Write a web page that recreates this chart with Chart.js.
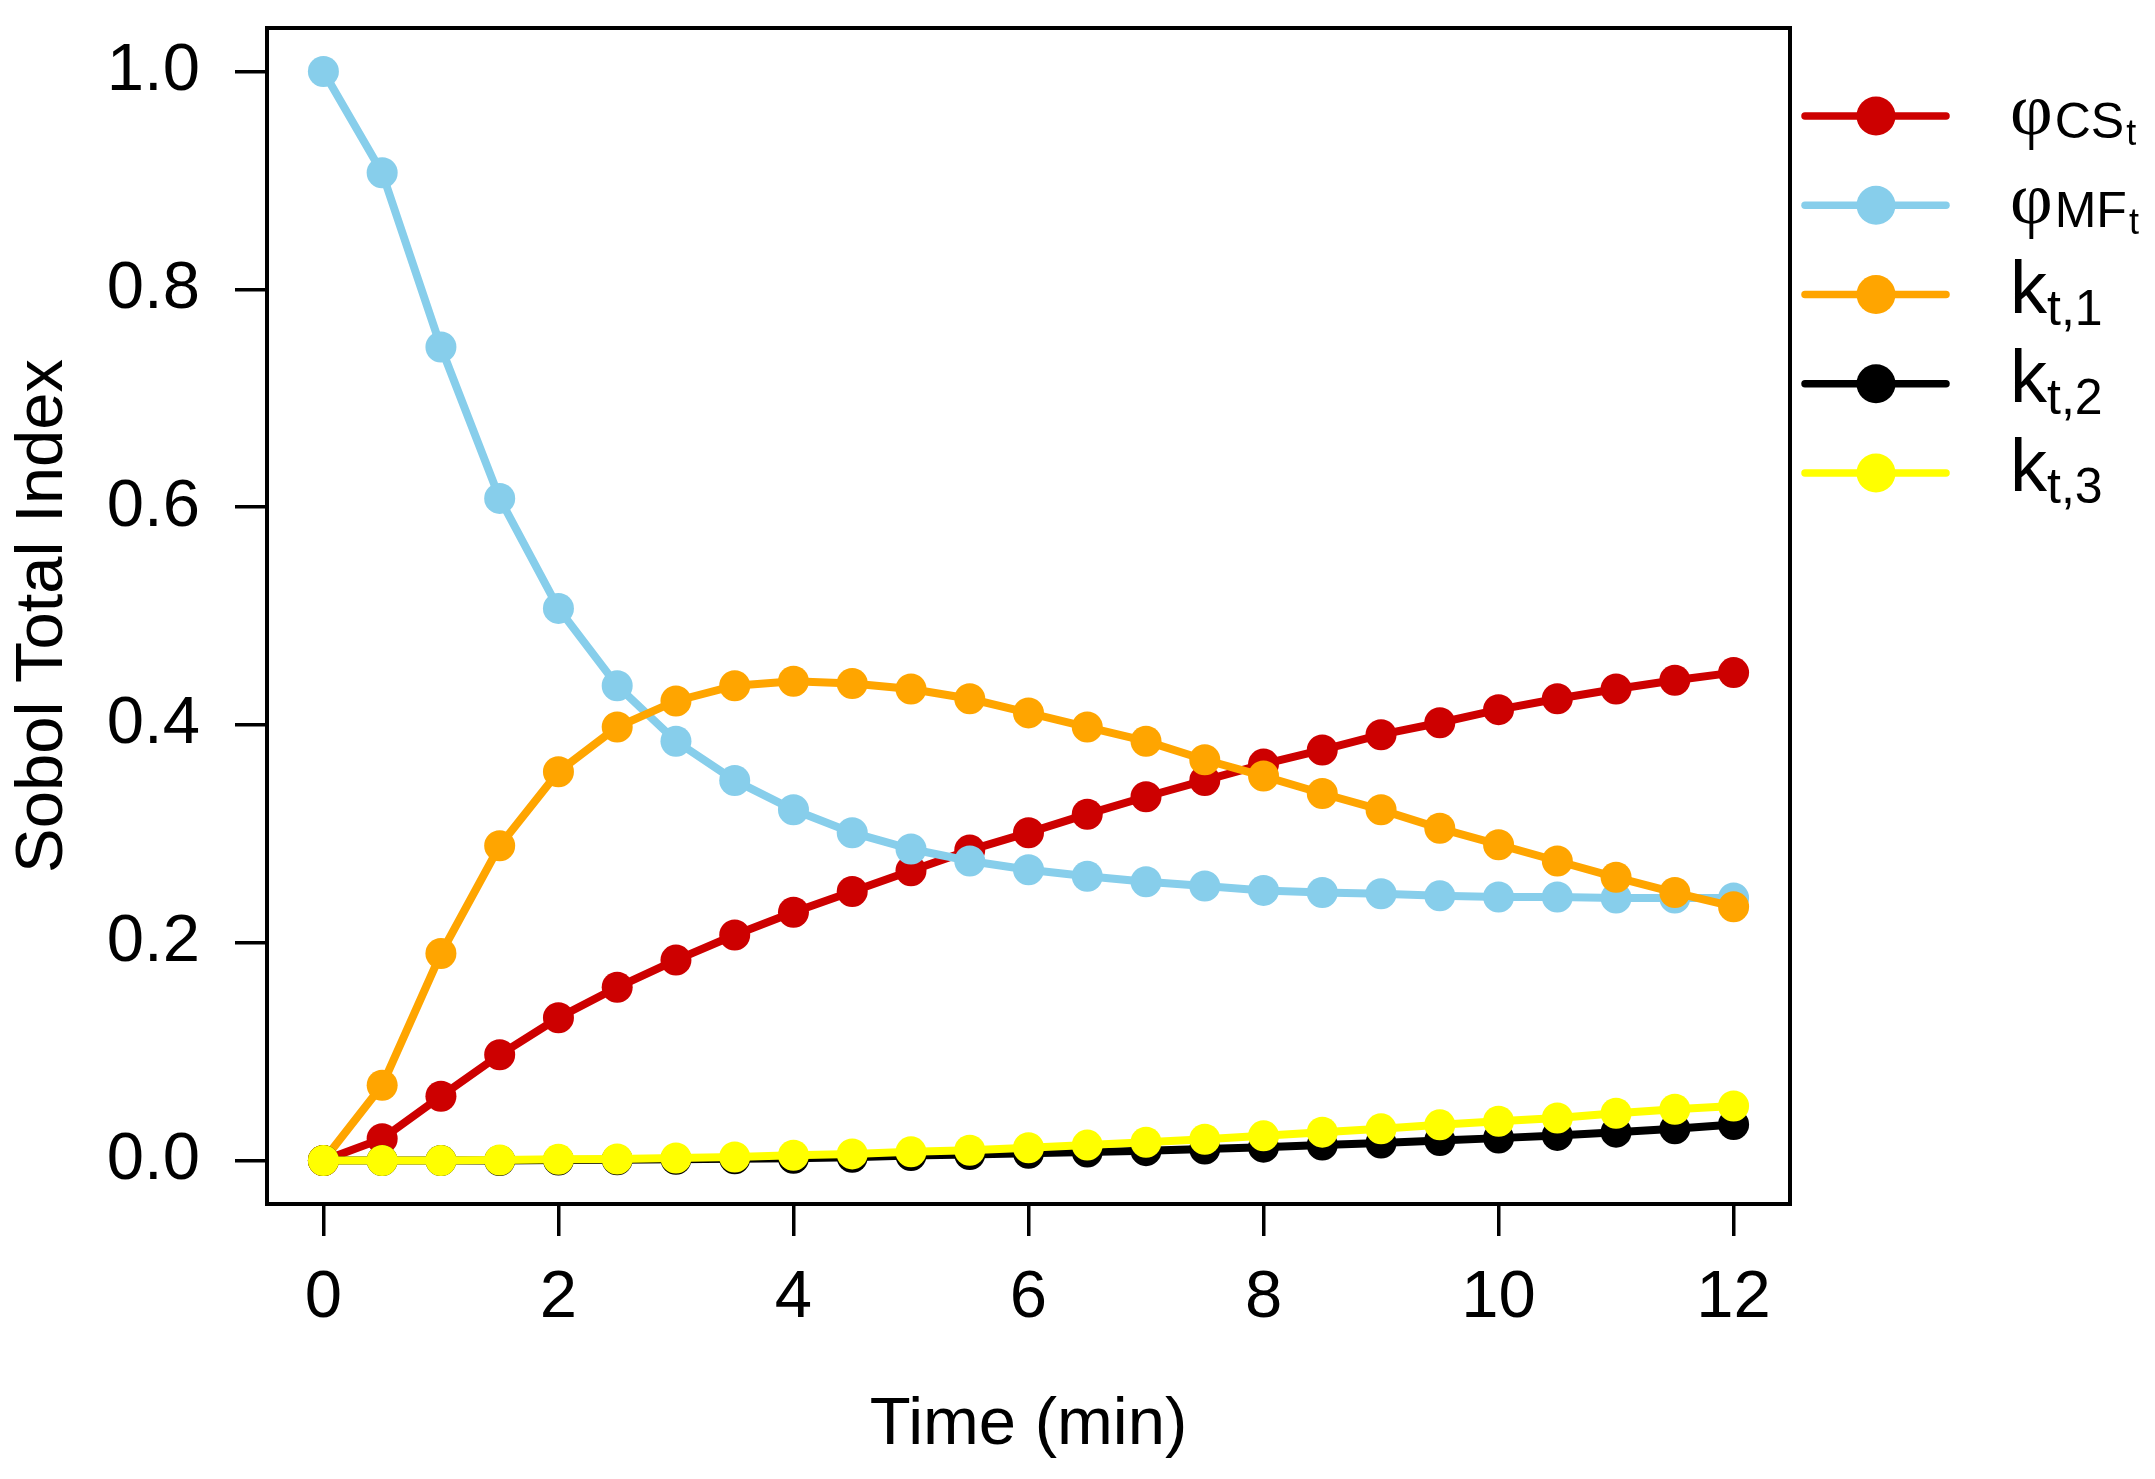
<!DOCTYPE html>
<html>
<head>
<meta charset="utf-8">
<script src="https://cdn.jsdelivr.net/npm/chart.js@4/dist/chart.umd.min.js"></script>
<style>
  html, body { margin: 0; padding: 0; background: #fff; }
  canvas { display: block; }
</style>
</head>
<body>
<canvas id="sobolChart" width="2155" height="1479"></canvas>
<script>
// time points (min)
const times = [0, 0.5, 1, 1.5, 2, 2.5, 3, 3.5, 4, 4.5, 5, 5.5, 6, 6.5, 7, 7.5, 8, 8.5, 9, 9.5, 10, 10.5, 11, 11.5, 12];

// Sobol total indices
const phiCS = [0, 0.020, 0.059, 0.097, 0.131, 0.159, 0.184, 0.207, 0.228, 0.247, 0.266, 0.285, 0.301, 0.318, 0.334, 0.349, 0.364, 0.377, 0.391, 0.402, 0.414, 0.424, 0.433, 0.441, 0.448];
const phiMF = [1.0, 0.907, 0.747, 0.608, 0.507, 0.436, 0.385, 0.349, 0.322, 0.301, 0.286, 0.275, 0.267, 0.261, 0.256, 0.252, 0.248, 0.246, 0.245, 0.243, 0.242, 0.242, 0.241, 0.241, 0.241];
const k1 = [0, 0.069, 0.190, 0.289, 0.357, 0.398, 0.422, 0.436, 0.440, 0.438, 0.433, 0.424, 0.411, 0.398, 0.385, 0.368, 0.353, 0.337, 0.322, 0.305, 0.290, 0.275, 0.260, 0.246, 0.233];
const k2 = [0, 0, 0, 0, 0.0003, 0.0007, 0.001, 0.0015, 0.002, 0.003, 0.0045, 0.0055, 0.0065, 0.0078, 0.009, 0.0105, 0.0122, 0.0142, 0.016, 0.0183, 0.0205, 0.023, 0.026, 0.029, 0.033];
const k3 = [0, 0, 0, 0.0003, 0.001, 0.0013, 0.0022, 0.0031, 0.0047, 0.006, 0.0079, 0.0094, 0.0116, 0.0141, 0.0167, 0.0195, 0.0226, 0.026, 0.029, 0.0327, 0.036, 0.039, 0.0434, 0.047, 0.050];

const xTicks = [0, 2, 4, 6, 8, 10, 12];
const yTicks = [0, 0.2, 0.4, 0.6, 0.8, 1.0];

// legend text: main symbol, subscript, second-level subscript
const legendMain = ['φ', 'φ', 'k', 'k', 'k'];
const legendSub = ['CS', 'MF', 't,1', 't,2', 't,3'];
const legendSubSub = ['t', 't', '', '', ''];

const seriesValues = [phiCS, phiMF, k1, k2, k3];
const seriesColors = ['#CD0000', '#87CEEB', '#FFA500', '#000000', '#FFFF00'];

const FONT = '"Liberation Sans", Arial, sans-serif';

const datasets = seriesValues.map((vals, i) => ({
    label: legendMain[i] + legendSub[i] + legendSubSub[i],
    data: times.map((t, j) => ({ x: t, y: vals[j] })),
    borderColor: seriesColors[i],
    backgroundColor: seriesColors[i],
    borderWidth: 8,
    pointRadius: 15.5,
    pointHoverRadius: 15.5,
    pointBorderWidth: 0,
    tension: 0,
    // first series drawn underneath, like base R lines()
    order: seriesValues.length - i
}));

// plot frame
const boxPlugin = {
    id: 'box',
    afterDraw(chart) {
        const { ctx, chartArea: a } = chart;
        ctx.save();
        ctx.strokeStyle = '#000';
        ctx.lineWidth = 4;
        ctx.strokeRect(a.left, a.top, a.right - a.left, a.bottom - a.top);
        ctx.restore();
    }
};

// R-style legend with subscripts
const legendPlugin = {
    id: 'rLegend',
    afterDraw(chart) {
        const ctx = chart.ctx;
        const x0 = chart.chartArea.right + 15;
        const firstY = 116, gap = 89.25;
        ctx.save();
        chart.data.datasets.forEach((ds, i) => {
            const y = firstY + gap * i;
            ctx.strokeStyle = ds.borderColor;
            ctx.fillStyle = ds.borderColor;
            ctx.lineWidth = 7.5;
            ctx.lineCap = 'round';
            ctx.beginPath();
            ctx.moveTo(x0, y);
            ctx.lineTo(x0 + 141, y);
            ctx.stroke();
            ctx.beginPath();
            ctx.arc(x0 + 71, y, 19.5, 0, Math.PI * 2);
            ctx.fill();

            ctx.fillStyle = '#000';
            ctx.textAlign = 'left';
            ctx.textBaseline = 'alphabetic';
            let tx = x0 + 205;
            const isPhi = legendMain[i] === 'φ';
            ctx.font = (isPhi ? '74px "Liberation Serif", serif' : '74px ' + FONT);
            ctx.fillText(legendMain[i], tx, y + 18);
            tx += ctx.measureText(legendMain[i]).width + (isPhi ? 2 : 0);
            ctx.font = '50px ' + FONT;
            const subY = isPhi ? y + 22 : y + 30;
            ctx.fillText(legendSub[i], tx, subY);
            tx += ctx.measureText(legendSub[i]).width + 2;
            if (legendSubSub[i]) {
                ctx.font = '36px ' + FONT;
                ctx.fillText(legendSubSub[i], tx, y + 29);
            }
        });
        ctx.restore();
    }
};

const config = {
    type: 'line',
    data: { datasets: datasets },
    options: {
        responsive: false,
        animation: false,
        devicePixelRatio: 1,
        layout: { padding: { left: 0, right: 365, top: 28, bottom: 0 } },
        plugins: {
            legend: { display: false },
            tooltip: { enabled: false }
        },
        scales: {
            x: {
                type: 'linear',
                min: -0.48,
                max: 12.48,
                afterBuildTicks: (scale) => { scale.ticks = xTicks.map(v => ({ value: v })); },
                afterFit: (scale) => {
                    scale.height = 1479 - 1204;
                    scale.paddingLeft = 0;
                    scale.paddingRight = 0;
                },
                border: { display: false },
                grid: { drawOnChartArea: false, drawTicks: true, tickLength: 32, color: '#000', lineWidth: 3.5 },
                ticks: { color: '#000', font: { family: FONT, size: 67 }, padding: 22, maxRotation: 0 },
                title: { display: true, text: 'Time (min)', color: '#000', font: { family: FONT, size: 67 }, padding: { top: 0, bottom: 13 } }
            },
            y: {
                type: 'linear',
                min: -0.04,
                max: 1.04,
                afterBuildTicks: (scale) => { scale.ticks = yTicks.map(v => ({ value: v })); },
                afterFit: (scale) => {
                    scale.width = 267;
                    scale.paddingTop = 0;
                    scale.paddingBottom = 0;
                },
                border: { display: false },
                grid: { drawOnChartArea: false, drawTicks: true, tickLength: 32, color: '#000', lineWidth: 3.5 },
                ticks: { color: '#000', font: { family: FONT, size: 67 }, padding: 35, callback: (v) => v.toFixed(1) },
                title: { display: true, text: 'Sobol Total Index', color: '#000', font: { family: FONT, size: 67 }, padding: { top: 3, bottom: 0 } }
            }
        }
    },
    plugins: [boxPlugin, legendPlugin]
};

const sobolChart = new Chart(document.getElementById('sobolChart'), config);
</script>
</body>
</html>
